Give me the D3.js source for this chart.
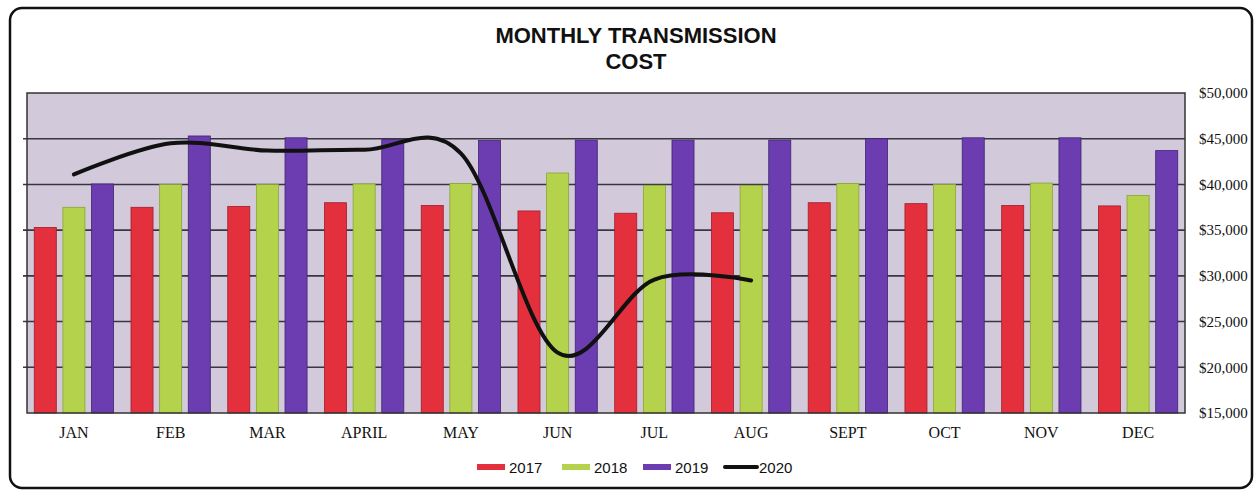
<!DOCTYPE html>
<html>
<head>
<meta charset="utf-8">
<script src="https://cdn.jsdelivr.net/npm/d3@7"></script>
<style>
  html, body { margin: 0; padding: 0; background: #ffffff; }
  svg { display: block; }
</style>
</head>
<body>
<svg id="chart" width="1257" height="495"></svg>
<script>
const months = ["JAN","FEB","MAR","APRIL","MAY","JUN","JUL","AUG","SEPT","OCT","NOV","DEC"];
const barSeries = ["2017","2018","2019"];
const values2017 = [35300,37500,37600,38000,37700,37100,36850,36900,38000,37900,37700,37650];
const values2018 = [37500,40000,40000,40050,40100,41250,39900,39900,40100,40000,40150,38800];
const values2019 = [40050,45300,45100,44900,44800,44850,44850,44850,45000,45100,45100,43700];
const months2020 = ["JAN","FEB","MAR","APRIL","MAY","JUN","JUL","AUG"];
const values2020 = [41100,44500,43700,43800,43400,21600,29600,29500];
const yTicks = [15000,20000,25000,30000,35000,40000,45000,50000];
const titleLines = ["MONTHLY TRANSMISSION","COST"];
const legendLabels = ["2017","2018","2019","2020"];

const colors = {"2017":"#e3303c","2018":"#b4d24c","2019":"#6b3db0","2020":"#111111"};
const strokes = {"2017":"#9e1f2a","2018":"#8aa535","2019":"#3f2470"};

const svg = d3.select("#chart");

// outer frame
svg.append("rect")
  .attr("x", 10).attr("y", 8).attr("width", 1242).attr("height", 480)
  .attr("rx", 12).attr("ry", 12)
  .attr("fill", "#ffffff").attr("stroke", "#111").attr("stroke-width", 2.5);

// title
svg.append("g").selectAll("text").data(titleLines).join("text")
  .attr("x", 636).attr("y", (d, i) => 43 + i * 26)
  .attr("text-anchor", "middle")
  .attr("font-family", "'Liberation Sans', Arial, sans-serif")
  .attr("font-weight", "bold").attr("font-size", 22).attr("fill", "#111")
  .text(d => d);

const plot = {left: 27, right: 1185, top: 93, bottom: 413};

const x0 = d3.scaleBand().domain(months).range([plot.left, plot.right])
  .paddingInner(0.18).paddingOuter(0.075);
const x1 = d3.scaleBand().domain(barSeries).range([0, x0.bandwidth()])
  .paddingInner(0.23).paddingOuter(0);
const y = d3.scaleLinear().domain([15000, 50000]).range([plot.bottom, plot.top]);

// plot background
svg.append("rect")
  .attr("x", plot.left).attr("y", plot.top)
  .attr("width", plot.right - plot.left).attr("height", plot.bottom - plot.top)
  .attr("fill", "#d2cadb");

// gridlines
svg.append("g").selectAll("line").data(yTicks.slice(1, -1)).join("line")
  .attr("x1", plot.left - 4).attr("x2", plot.right)
  .attr("y1", d => y(d)).attr("y2", d => y(d))
  .attr("stroke", "#3a3640").attr("stroke-width", 1.6);

// bars
const bySeries = {"2017": values2017, "2018": values2018, "2019": values2019};
const barData = [];
months.forEach((m, i) => barSeries.forEach(s => barData.push({m, s, v: bySeries[s][i]})));

svg.append("g").selectAll("rect").data(barData).join("rect")
  .attr("x", d => x0(d.m) + x1(d.s))
  .attr("y", d => y(d.v))
  .attr("width", x1.bandwidth())
  .attr("height", d => y(15000) - y(d.v))
  .attr("fill", d => colors[d.s])
  .attr("stroke", d => strokes[d.s]).attr("stroke-width", 0.8);

// plot border
svg.append("rect")
  .attr("x", plot.left).attr("y", plot.top)
  .attr("width", plot.right - plot.left).attr("height", plot.bottom - plot.top)
  .attr("fill", "none").attr("stroke", "#333").attr("stroke-width", 1.5);

// 2020 line
const line = d3.line()
  .x((d, i) => x0(months2020[i]) + x0.bandwidth() / 2)
  .y(d => y(d))
  .curve(d3.curveCardinal.tension(0));
svg.append("path").datum(values2020)
  .attr("d", line)
  .attr("fill", "none").attr("stroke", colors["2020"])
  .attr("stroke-width", 4).attr("stroke-linecap", "round").attr("stroke-linejoin", "round");

// x axis labels
const xAxis = d3.axisBottom(x0).tickSize(0).tickPadding(14);
const gx = svg.append("g").attr("transform", `translate(0,${plot.bottom})`).call(xAxis);
gx.select(".domain").remove();
gx.selectAll("text")
  .attr("font-family", "'Liberation Serif', 'Times New Roman', serif")
  .attr("font-size", 16).attr("fill", "#111");

// y axis labels (right)
const yAxis = d3.axisRight(y).tickValues(yTicks).tickSize(0).tickPadding(14)
  .tickFormat(d3.format("$,"));
const gy = svg.append("g").attr("transform", `translate(${plot.right},0)`).call(yAxis);
gy.select(".domain").remove();
gy.selectAll("text")
  .attr("font-family", "'Liberation Serif', 'Times New Roman', serif")
  .attr("font-size", 15).attr("fill", "#111");

// legend
const legendX = [477, 562, 643, 725];
const lg = svg.append("g");
legendLabels.forEach((s, i) => {
  if (s === "2020") {
    lg.append("line").attr("x1", legendX[i]).attr("x2", legendX[i] + 32)
      .attr("y1", 467).attr("y2", 467)
      .attr("stroke", colors[s]).attr("stroke-width", 4).attr("stroke-linecap", "round");
    lg.append("text").attr("x", legendX[i] + 34).attr("y", 473)
      .attr("font-family", "'Liberation Sans', Arial, sans-serif").attr("font-size", 15)
      .attr("fill", "#111").text(s);
  } else {
    lg.append("rect").attr("x", legendX[i]).attr("y", 464).attr("width", 28).attr("height", 6)
      .attr("fill", colors[s]);
    lg.append("text").attr("x", legendX[i] + 32).attr("y", 473)
      .attr("font-family", "'Liberation Sans', Arial, sans-serif").attr("font-size", 15)
      .attr("fill", "#111").text(s);
  }
});
</script>
</body>
</html>
